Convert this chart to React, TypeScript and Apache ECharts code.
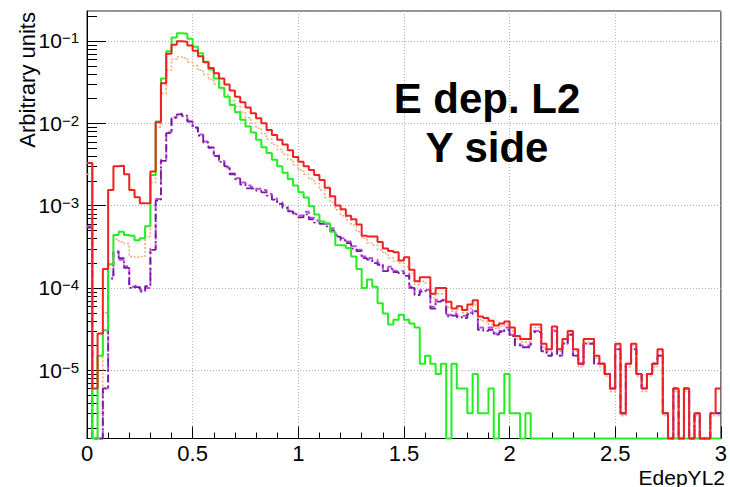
import React, { useEffect, useRef } from "react";
import * as echarts from "echarts";

// Histogram binning: 120 bins of 0.025 over [0, 3]
const BIN_WIDTH = 0.025;
const X_MIN = 0;
const X_MAX = 3;
const Y_MIN = 1.48e-6;
const Y_MAX = 0.231;

const xTickLabels = ["0", "0.5", "1", "1.5", "2", "2.5", "3"];
const xTitle = "EdepYL2";
const yTitle = "Arbitrary units";
const plotTitle = ["E dep. L2", "Y side"];

// Bin contents (arbitrary units), one value per bin
const redValues = [
  3.3e-3, 6e-6, 2.8e-5, 1.7e-4, 1.55e-3, 3.0e-3, 3.05e-3, 2.4e-3, 1.55e-3, 1.26e-3,
  1.07e-3, 1.07e-3, 2.6e-3, 1.03e-2, 3.06e-2, 7.0e-2, 9.0e-2, 9.9e-2, 9.8e-2, 8.8e-2,
  7.6e-2, 6.5e-2, 5.5e-2, 4.7e-2, 4.05e-2, 3.5e-2, 2.95e-2, 2.5e-2, 2.1e-2, 1.8e-2,
  1.55e-2, 1.32e-2, 1.15e-2, 1.0e-2, 8.3e-3, 7.2e-3, 6.3e-3, 5.5e-3, 4.7e-3, 3.9e-3,
  3.4e-3, 3.0e-3, 2.7e-3, 2.35e-3, 2.05e-3, 1.65e-3, 1.3e-3, 1.0e-3, 9.0e-4, 7.5e-4,
  6.8e-4, 5.9e-4, 4.3e-4, 4.2e-4, 4.2e-4, 3.6e-4, 3.0e-4, 2.8e-4, 2.7e-4, 2.15e-4,
  2.35e-4, 1.66e-4, 1.2e-4, 1.35e-4, 1.35e-4, 8.5e-5, 1.0e-4, 1.0e-4, 6.8e-5, 5.6e-5,
  6.0e-5, 5.4e-5, 6.3e-5, 7.1e-5, 4.5e-5, 4.3e-5, 4.0e-5, 3.5e-5, 3.7e-5, 3.9e-5,
  3.3e-5, 2.6e-5, 2.4e-5, 2.4e-5, 3.6e-5, 3.6e-5, 2.1e-5, 1.8e-5, 3.4e-5, 1.8e-5,
  2.4e-5, 3.0e-5, 1.8e-5, 1.2e-5, 2.4e-5, 2.4e-5, 1.5e-5, 1.2e-5, 9e-6, 6e-6,
  2.1e-5, 3e-6, 1.2e-5, 2.1e-5, 9e-6, 6e-6, 9e-6, 1.2e-5, 1.8e-5, 3e-6,
  0, 6e-6, 0, 6e-6, 0, 3e-6, 0, 0, 3e-6, 6e-6,
];

const greenValues = [
  3.3e-3, 0, 1.5e-5, 3.06e-5, 1.94e-4, 4.4e-4, 4.8e-4, 4.4e-4, 4.3e-4, 3.8e-4,
  4.0e-4, 5.6e-4, 2.35e-3, 1.05e-2, 3.5e-2, 7.5e-2, 1.1e-1, 1.24e-1, 1.22e-1, 1.06e-1,
  8.5e-2, 7.1e-2, 5.6e-2, 4.5e-2, 3.5e-2, 2.7e-2, 2.1e-2, 1.67e-2, 1.36e-2, 1.1e-2,
  9.1e-3, 7.7e-3, 6.3e-3, 5.1e-3, 4.35e-3, 3.6e-3, 3.0e-3, 2.5e-3, 2.1e-3, 1.75e-3,
  1.45e-3, 1.25e-3, 9.8e-4, 7.8e-4, 6.4e-4, 6.1e-4, 4.8e-4, 3.3e-4, 3.3e-4, 3.05e-4,
  2.4e-4, 1.7e-4, 1.0e-4, 1.26e-4, 1.03e-4, 6.5e-5, 4.9e-5, 3.6e-5, 4.1e-5, 4.7e-5,
  4.1e-5, 3.7e-5, 3.3e-5, 1.2e-5, 1.5e-5, 1.2e-5, 9e-6, 1.2e-5, 0, 1.2e-5,
  6e-6, 6e-6, 3e-6, 9e-6, 3e-6, 3e-6, 6e-6, 0, 3e-6, 9e-6,
  3e-6, 3e-6, 0, 3e-6, 0, 0, 0, 0, 0, 0,
  0, 0, 0, 0, 0, 0, 0, 0, 0, 0,
  0, 0, 0, 0, 0, 0, 0, 0, 0, 0,
  0, 0, 0, 0, 0, 0, 0, 0, 0, 0,
];

const orangeValues = [
  2.4e-3, 0, 3e-6, 5e-5, 1.9e-4, 3.9e-4, 3.6e-4, 3.45e-4, 2.4e-4, 2.35e-4,
  2.4e-4, 4.2e-4, 1.9e-3, 9.0e-3, 2.3e-2, 4.4e-2, 6.0e-2, 6.4e-2, 6.2e-2, 5.5e-2,
  5.0e-2, 4.4e-2, 3.9e-2, 3.4e-2, 3.0e-2, 2.6e-2, 2.2e-2, 1.88e-2, 1.6e-2, 1.36e-2,
  1.17e-2, 1.0e-2, 8.7e-3, 7.5e-3, 6.4e-3, 5.5e-3, 4.8e-3, 4.2e-3, 3.6e-3, 3.1e-3,
  2.7e-3, 2.4e-3, 2.1e-3, 1.85e-3, 1.55e-3, 1.26e-3, 1.1e-3, 8.9e-4, 7.5e-4, 6.7e-4,
  5.8e-4, 4.8e-4, 4.0e-4, 3.5e-4, 3.3e-4, 2.9e-4, 2.65e-4, 2.3e-4, 2.1e-4, 2.0e-4,
  1.8e-4, 1.5e-4, 1.1e-4, 1.2e-4, 1.15e-4, 7.5e-5, 8.5e-5, 8.5e-5, 5.8e-5, 5.2e-5,
  5.5e-5, 5.0e-5, 5.6e-5, 6.2e-5, 4.1e-5, 3.9e-5, 3.6e-5, 3.2e-5, 3.4e-5, 3.6e-5,
  3.0e-5, 2.4e-5, 2.2e-5, 2.2e-5, 3.3e-5, 3.3e-5, 1.9e-5, 1.7e-5, 3.1e-5, 1.7e-5,
  2.2e-5, 2.8e-5, 1.7e-5, 1.1e-5, 2.2e-5, 2.2e-5, 1.4e-5, 1.1e-5, 8.5e-6, 5.5e-6,
  2.0e-5, 2.8e-6, 1.1e-5, 2.0e-5, 8.5e-6, 5.5e-6, 8.5e-6, 1.1e-5, 1.7e-5, 2.8e-6,
  0, 5.5e-6, 0, 5.5e-6, 0, 2.8e-6, 0, 0, 2.8e-6, 2.8e-6,
];

const violetValues = [
  5.6e-4, 0, 0, 6e-6, 1.4e-4, 2.8e-4, 2.2e-4, 1.83e-4, 1.03e-4, 1.06e-4,
  9.4e-5, 1.0e-4, 3.0e-4, 1.2e-3, 3.6e-3, 7.8e-3, 1.18e-2, 1.3e-2, 1.22e-2, 1.07e-2,
  8.7e-3, 7.3e-3, 6.0e-3, 5.0e-3, 4.1e-3, 3.5e-3, 2.9e-3, 2.45e-3, 2.15e-3, 1.9e-3,
  1.75e-3, 1.68e-3, 1.6e-3, 1.55e-3, 1.38e-3, 1.22e-3, 1.1e-3, 1.0e-3, 8.8e-4, 8.0e-4,
  7.6e-4, 8.4e-4, 7.1e-4, 6.6e-4, 6.4e-4, 6.0e-4, 5.3e-4, 4.4e-4, 4.0e-4, 3.65e-4,
  3.2e-4, 2.9e-4, 2.4e-4, 2.3e-4, 2.2e-4, 2.0e-4, 1.7e-4, 1.8e-4, 1.6e-4, 1.6e-4,
  1.5e-4, 1.04e-4, 8.6e-5, 9.5e-5, 9.5e-5, 5.9e-5, 7.2e-5, 7.2e-5, 4.7e-5, 4.9e-5,
  4.6e-5, 4.6e-5, 5.0e-5, 5.4e-5, 3.3e-5, 3.2e-5, 3.3e-5, 2.8e-5, 3.0e-5, 3.3e-5,
  2.7e-5, 2.1e-5, 2.0e-5, 2.0e-5, 3.0e-5, 3.0e-5, 1.8e-5, 1.5e-5, 3.0e-5, 1.5e-5,
  2.1e-5, 2.7e-5, 1.5e-5, 1.2e-5, 2.1e-5, 2.1e-5, 1.2e-5, 1.2e-5, 9e-6, 6e-6,
  1.8e-5, 3e-6, 1.2e-5, 1.8e-5, 9e-6, 6e-6, 9e-6, 1.2e-5, 1.5e-5, 3e-6,
  0, 6e-6, 0, 6e-6, 0, 3e-6, 0, 0, 3e-6, 3e-6,
];

const purpleValues = [
  5.4e-4, 0, 0, 6e-6, 1.3e-4, 2.7e-4, 2.3e-4, 1.75e-4, 1.0e-4, 1.02e-4,
  9.0e-5, 1.05e-4, 2.9e-4, 1.15e-3, 3.5e-3, 7.6e-3, 1.16e-2, 1.28e-2, 1.24e-2, 1.05e-2,
  8.9e-3, 7.1e-3, 5.8e-3, 5.1e-3, 4.0e-3, 3.4e-3, 3.0e-3, 2.4e-3, 2.1e-3, 1.8e-3,
  1.62e-3, 1.6e-3, 1.52e-3, 1.45e-3, 1.32e-3, 1.18e-3, 1.05e-3, 9.4e-4, 8.5e-4, 7.8e-4,
  7.2e-4, 7.8e-4, 6.8e-4, 6.2e-4, 6.0e-4, 5.6e-4, 5.0e-4, 4.2e-4, 3.8e-4, 3.5e-4,
  3.0e-4, 2.8e-4, 2.3e-4, 2.2e-4, 2.0e-4, 1.9e-4, 1.6e-4, 1.7e-4, 1.55e-4, 1.5e-4,
  1.4e-4, 1.0e-4, 8.2e-5, 9.0e-5, 9.2e-5, 5.6e-5, 6.8e-5, 7.0e-5, 4.5e-5, 4.6e-5,
  4.4e-5, 4.3e-5, 4.8e-5, 5.2e-5, 3.1e-5, 3.0e-5, 3.1e-5, 2.7e-5, 2.9e-5, 3.1e-5,
  2.6e-5, 2.0e-5, 1.9e-5, 1.9e-5, 2.9e-5, 2.9e-5, 1.7e-5, 1.5e-5, 2.9e-5, 1.5e-5,
  2.1e-5, 2.7e-5, 1.5e-5, 1.2e-5, 2.1e-5, 2.1e-5, 1.2e-5, 1.2e-5, 9e-6, 6e-6,
  1.8e-5, 3e-6, 1.2e-5, 1.8e-5, 9e-6, 6e-6, 9e-6, 1.2e-5, 1.5e-5, 3e-6,
  0, 6e-6, 0, 6e-6, 0, 3e-6, 0, 0, 3e-6, 3e-6,
];

const FONT = "'Liberation Sans', Arial, Helvetica, sans-serif";

// Step outline points: left edge of every bin, plus the right edge of the last bin.
// Empty bins sit on the lower frame edge, as on a log-scale histogram.
function histPoints(values: number[]): number[][] {
  const pts = values.map((v, i) => [i * BIN_WIDTH, v > 0 ? v : Y_MIN]);
  pts.push([values.length * BIN_WIDTH, pts[pts.length - 1][1]]);
  return pts;
}

const seriesDefs = [
  { name: "orange", values: orangeValues, color: "#f4a66e", width: 1.5, dash: [2, 2] as any },
  { name: "violet", values: violetValues, color: "#c447ee", width: 2, dash: [6, 4] as any },
  { name: "purple", values: purpleValues, color: "#6f1f98", width: 1.8, dash: [8, 3, 2, 3] as any },
  { name: "green", values: greenValues, color: "#22ee22", width: 2, dash: "solid" as any },
  { name: "red", values: redValues, color: "#ee2222", width: 2, dash: "solid" as any },
];

export default function App() {
  const ref = useRef<HTMLDivElement>(null);

  useEffect(() => {
    document.body.style.margin = "0";
    const chart = echarts.init(ref.current!, null, { renderer: "svg" });

    chart.setOption({
      animation: false,
      backgroundColor: "#ffffff",
      grid: {
        left: 87,
        right: 6,
        top: 11,
        bottom: 48.5,
        show: true,
        borderColor: "#222",
        borderWidth: 1,
      },
      xAxis: {
        type: "value",
        min: X_MIN,
        max: X_MAX,
        interval: 0.5,
        axisLine: { show: true, onZero: false, lineStyle: { color: "#000", width: 1 } },
        axisTick: { show: true, inside: true, length: 12, lineStyle: { color: "#000" } },
        minorTick: { show: true, splitNumber: 5, length: 6, lineStyle: { color: "#000" } },
        splitLine: { show: true, lineStyle: { color: "#b0b0b0", width: 1, type: [1, 2] } },
        axisLabel: {
          color: "#000",
          fontSize: 22,
          fontFamily: FONT,
          margin: 4,
          formatter: (v: number) => xTickLabels[Math.round(v / 0.5)] ?? "",
        },
      },
      yAxis: {
        type: "log",
        logBase: 10,
        min: Y_MIN,
        max: Y_MAX,
        axisLine: { show: true, lineStyle: { color: "#000", width: 1 } },
        axisTick: { show: true, inside: true, length: 19, lineStyle: { color: "#000" } },
        splitLine: { show: true, lineStyle: { color: "#b0b0b0", width: 1, type: [1, 2] } },
        axisLabel: {
          color: "#000",
          margin: 8,
          showMinLabel: false,
          showMaxLabel: false,
          formatter: (v: number) => {
            const e = Math.log10(v);
            const r = Math.round(e);
            if (Math.abs(e - r) > 1e-6) return "";
            return `{b|10}{s|\u2212${-r}}`;
          },
          rich: {
            b: { fontSize: 21, fontFamily: FONT, color: "#000", lineHeight: 21, padding: [7, 0, 0, 0], verticalAlign: "bottom" },
            s: { fontSize: 15, fontFamily: FONT, color: "#000", lineHeight: 15, verticalAlign: "top" },
          },
        },
      },
      series: seriesDefs.map((s, i) => ({
        name: s.name,
        type: "line",
        step: "end",
        symbol: "none",
        clip: false,
        z: 2 + i,
        data: histPoints(s.values),
        lineStyle: { color: s.color, width: s.width, type: s.dash },
      })),
    });

    // Minor log ticks (2..9 x 10^n) along the left axis
    const x0 = chart.convertToPixel({ xAxisIndex: 0 }, X_MIN) as number;
    const minorTicks: any[] = [];
    for (let e = -7; e <= 0; e++) {
      for (let k = 2; k <= 9; k++) {
        const v = k * Math.pow(10, e);
        if (v <= Y_MIN || v >= Y_MAX) continue;
        const y = Math.round(chart.convertToPixel({ yAxisIndex: 0 }, v) as number) + 0.5;
        minorTicks.push({
          type: "line",
          silent: true,
          shape: { x1: x0, y1: y, x2: x0 + 10, y2: y },
          style: { stroke: "#000", lineWidth: 1 },
        });
      }
    }

    chart.setOption({
      graphic: {
        elements: [
          ...minorTicks,
          {
            type: "text",
            x: 487,
            y: 98,
            style: { text: plotTitle[0], fontSize: 42, fontWeight: "bold", fontFamily: FONT, fill: "#000", align: "center", verticalAlign: "middle" },
          },
          {
            type: "text",
            x: 487,
            y: 147,
            style: { text: plotTitle[1], fontSize: 42, fontWeight: "bold", fontFamily: FONT, fill: "#000", align: "center", verticalAlign: "middle" },
          },
          {
            type: "text",
            x: 725,
            y: 477,
            style: { text: xTitle, fontSize: 21, fontFamily: FONT, fill: "#000", align: "right", verticalAlign: "middle" },
          },
          {
            type: "text",
            x: 27,
            y: 12,
            rotation: Math.PI / 2,
            style: { text: yTitle, fontSize: 22, fontFamily: FONT, fill: "#000", align: "right", verticalAlign: "middle" },
          },
        ],
      },
    });

    return () => chart.dispose();
  }, []);

  return <div ref={ref} style={{ width: 730, height: 487 }} />;
}
